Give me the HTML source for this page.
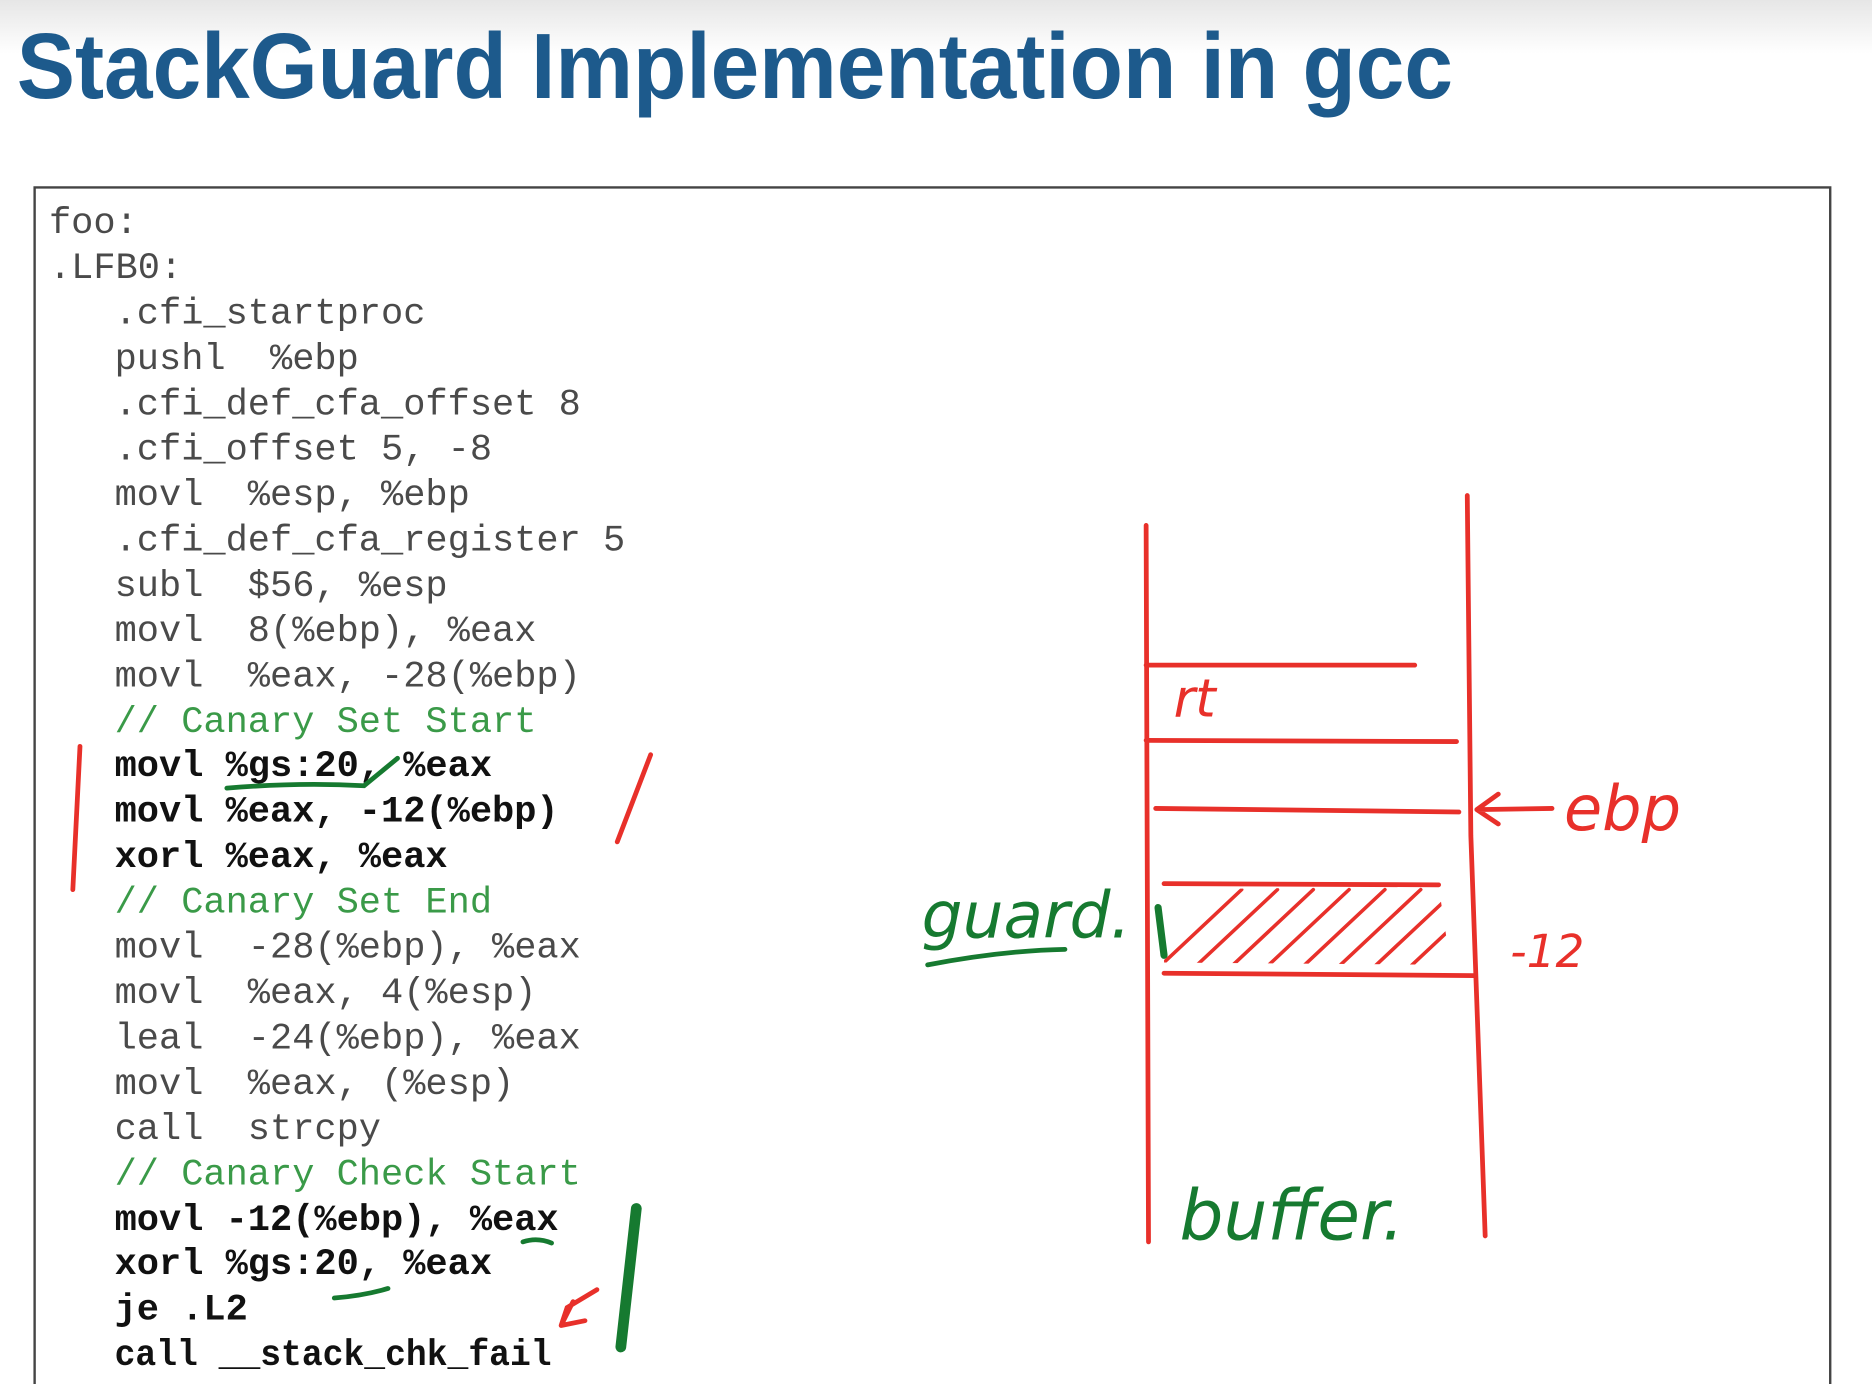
<!DOCTYPE html>
<html><head><meta charset="utf-8"><style>
html,body{margin:0;padding:0;background:#fff;}
svg{display:block;}
</style></head><body>
<svg width="1872" height="1384" viewBox="0 0 1568 1159" preserveAspectRatio="none" xmlns="http://www.w3.org/2000/svg">
<defs>
<linearGradient id="g" x1="0" y1="0" x2="0" y2="1">
<stop offset="0" stop-color="#e6e6e6"/><stop offset="1" stop-color="#ffffff"/>
</linearGradient>
<clipPath id="hc"><polygon points="975,745 1205,742 1215,808 975,806"/></clipPath>
</defs>
<rect x="0" y="0" width="1568" height="1159" fill="#fff"/>
<rect x="0" y="0" width="1568" height="45" fill="url(#g)"/>
<text x="14" y="82" font-family="Liberation Sans, sans-serif" font-weight="bold" font-size="78" fill="#1d5a8c" textLength="1203" lengthAdjust="spacingAndGlyphs">StackGuard Implementation in gcc</text>
<path d="M29,1160 V157 H1533 V1160" fill="none" stroke="#444" stroke-width="2"/>
<g font-family="Liberation Mono, monospace" font-size="31" fill="#4a4a4a" transform="translate(0,2)">
<text x="41" y="193">foo:</text>
<text x="41" y="231">.LFB0:</text>
<text x="96" y="269">.cfi_startproc</text>
<text x="96" y="307" xml:space="preserve">pushl  %ebp</text>
<text x="96" y="345">.cfi_def_cfa_offset 8</text>
<text x="96" y="383">.cfi_offset 5, -8</text>
<text x="96" y="421" xml:space="preserve">movl  %esp, %ebp</text>
<text x="96" y="459">.cfi_def_cfa_register 5</text>
<text x="96" y="497" xml:space="preserve">subl  $56, %esp</text>
<text x="96" y="535" xml:space="preserve">movl  8(%ebp), %eax</text>
<text x="96" y="573" xml:space="preserve">movl  %eax, -28(%ebp)</text>
<text x="96" y="611" fill="#3a9a48">// Canary Set Start</text>
<text x="96" y="648" font-weight="bold" fill="#111">movl %gs:20, %eax</text>
<text x="96" y="686" font-weight="bold" fill="#111">movl %eax, -12(%ebp)</text>
<text x="96" y="724" font-weight="bold" fill="#111">xorl %eax, %eax</text>
<text x="96" y="762" fill="#3a9a48">// Canary Set End</text>
<text x="96" y="800" xml:space="preserve">movl  -28(%ebp), %eax</text>
<text x="96" y="838" xml:space="preserve">movl  %eax, 4(%esp)</text>
<text x="96" y="876" xml:space="preserve">leal  -24(%ebp), %eax</text>
<text x="96" y="914" xml:space="preserve">movl  %eax, (%esp)</text>
<text x="96" y="952" xml:space="preserve">call  strcpy</text>
<text x="96" y="990" fill="#3a9a48">// Canary Check Start</text>
<text x="96" y="1028" font-weight="bold" fill="#111">movl -12(%ebp), %eax</text>
<text x="96" y="1065" font-weight="bold" fill="#111">xorl %gs:20, %eax</text>
<text x="96" y="1103" font-weight="bold" fill="#111">je .L2</text>
<text x="96" y="1141" font-weight="bold" fill="#111" textLength="366" lengthAdjust="spacingAndGlyphs">call __stack_chk_fail</text>
</g>
<g fill="none" stroke="#e8302a" stroke-width="4" stroke-linecap="round">
<path d="M67,625 L61,745"/>
<path d="M545,632 L517,705"/>
<path d="M500,1080 L475,1095 L470,1110 M470,1110 L490,1106 M470,1110 L480,1090"/>
<path d="M960,440 L962,1040"/>
<path d="M1229,415 L1232,700 L1244,1035"/>
<path d="M960,557 L1185,557"/>
<path d="M960,620 L1220,621"/>
<path d="M968,677 L1222,680"/>
<path d="M975,740 L1205,741"/>
<path d="M975,815 L1235,817"/>
<path d="M1300,677 L1237,678 M1237,678 L1255,665 M1237,678 L1255,690"/>
<g clip-path="url(#hc)" stroke-width="3">
<path d="M960,820 L1040,745 M990,820 L1070,745 M1020,820 L1100,745 M1050,820 L1130,745 M1080,820 L1160,745 M1110,820 L1190,745 M1140,820 L1220,745 M1170,820 L1250,745"/>
</g>
</g>
<g font-family="DejaVu Sans, sans-serif" font-style="italic" fill="#e8302a">
<text x="983" y="600" font-size="44">rt</text>
<text x="1310" y="695" font-size="52">ebp</text>
<text x="1265" y="810" font-size="38">-12</text>
</g>
<g font-family="DejaVu Sans, sans-serif" font-style="italic" fill="#167a30">
<text x="772" y="785" font-size="54">guard.</text>
<text x="988" y="1038" font-size="58">buffer.</text>
</g>
<g fill="none" stroke="#167a30" stroke-width="4" stroke-linecap="round">
<path d="M190,660 Q250,655 305,658 L333,635"/>
<path d="M777,808 Q840,796 892,795"/>
<path d="M970,760 L975,800" stroke-width="6"/>
<path d="M438,1040 Q450,1036 462,1041"/>
<path d="M280,1087 Q305,1085 325,1079"/>
<path d="M533,1012 L520,1128" stroke-width="9"/>
</g>
</svg>
</body></html>
